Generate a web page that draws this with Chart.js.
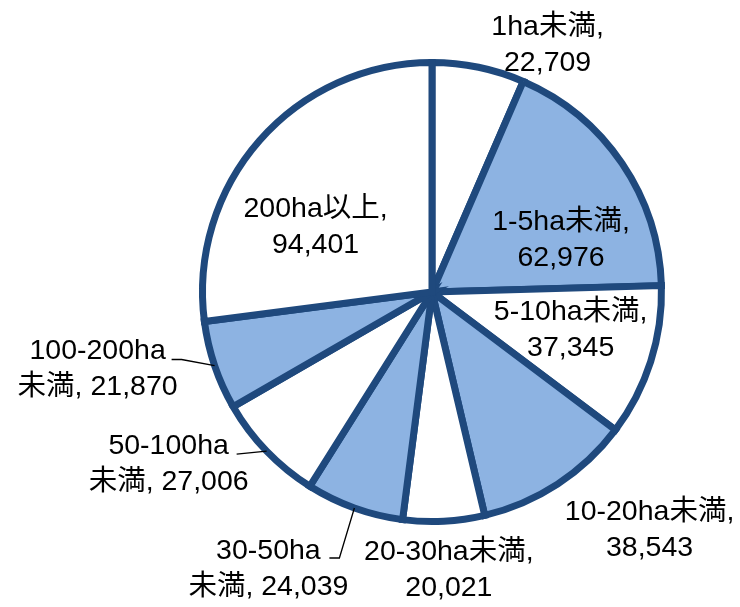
<!DOCTYPE html>
<html>
<head>
<meta charset="utf-8">
<script src="https://cdn.jsdelivr.net/npm/chart.js@4.4.1/dist/chart.umd.min.js"></script>
<style>
  body { margin: 0; background: #fff; }
  #wrap { width: 740px; height: 607px; }
</style>
</head>
<body>
<div id="wrap"><canvas id="pieChart" width="740" height="607"></canvas></div>
<script>
// data
const categories = ["1ha未満", "1-5ha未満", "5-10ha未満", "10-20ha未満", "20-30ha未満",
  "30-50ha未満", "50-100ha未満", "100-200ha未満", "200ha以上"];
const values = [22709, 62976, 37345, 38543, 20021, 24039, 27006, 21870, 94401];

const WHITE = "#ffffff";
const BLUE = "#8db3e2";
const sliceColors = [WHITE, BLUE, WHITE, BLUE, WHITE, BLUE, WHITE, BLUE, WHITE];

// label placement relative to slice's outer edge point (mid angle)
// split: where line 1 ends in the category text (null = whole category + ",")
const labelPlace = [
  { dx: 69, dy: -22 },
  { dx: -61, dy: 77 },
  { dx: -80, dy: -32 },
  { dx: 92, dy: 46 },
  { dx: 5, dy: 49 },
  { dx: -86, dy: 61, split: 7, leader: [[-15, 50], [-25, 50]] },
  { dx: -98, dy: 13, split: 8, leader: [[-30, 3]] },
  { dx: -117, dy: 4, split: 9, leader: [[-33, -6], [-43, -6]] },
  { dx: 56, dy: 87 }
];

function fmt(n) {
  return n.toLocaleString("en-US");
}

const labelPlugin = {
  id: "pieLabels",
  afterDatasetsDraw(chart) {
    const ctx = chart.ctx;
    const meta = chart.getDatasetMeta(0);
    ctx.save();
    ctx.font = '28.5px "Liberation Sans", Arial, "Noto Sans CJK JP", sans-serif';
    ctx.fillStyle = "#000";
    ctx.textAlign = "center";
    ctx.textBaseline = "middle";
    meta.data.forEach((arc, i) => {
      const p = arc.getProps(["x", "y", "startAngle", "endAngle", "outerRadius"], true);
      const mid = (p.startAngle + p.endAngle) / 2;
      const ex = p.x + Math.cos(mid) * p.outerRadius;
      const ey = p.y + Math.sin(mid) * p.outerRadius;
      const pl = labelPlace[i];
      let line1, line2;
      const cat = categories[i];
      if (pl.split) {
        line1 = cat.slice(0, pl.split);
        line2 = cat.slice(pl.split) + ", " + fmt(values[i]);
      } else {
        line1 = cat + ",";
        line2 = fmt(values[i]);
      }
      const cx = ex + pl.dx;
      const cy = ey + pl.dy;
      ctx.fillText(line1, cx, cy - 18);
      ctx.fillText(line2, cx, cy + 18);
      if (pl.leader) {
        ctx.beginPath();
        ctx.strokeStyle = "#000";
        ctx.lineWidth = 1.3;
        ctx.moveTo(ex, ey);
        pl.leader.forEach(pt => ctx.lineTo(ex + pt[0], ey + pt[1]));
        ctx.stroke();
      }
    });
    ctx.restore();
  }
};

new Chart(document.getElementById("pieChart").getContext("2d"), {
  type: "pie",
  data: {
    labels: categories,
    datasets: [
      {
        data: values,
        backgroundColor: sliceColors,
        borderColor: "#1f497d",
        borderWidth: 7,
        borderJoinStyle: "miter",
      },
    ],
  },
  options: {
    responsive: false,
    animation: false,
    layout: {
      padding: { left: 199, top: 59, right: 75, bottom: 82 },
    },
    plugins: {
      legend: { display: false },
      tooltip: { enabled: false },
    },
  },
  plugins: [labelPlugin],
});
</script>
</body>
</html>
